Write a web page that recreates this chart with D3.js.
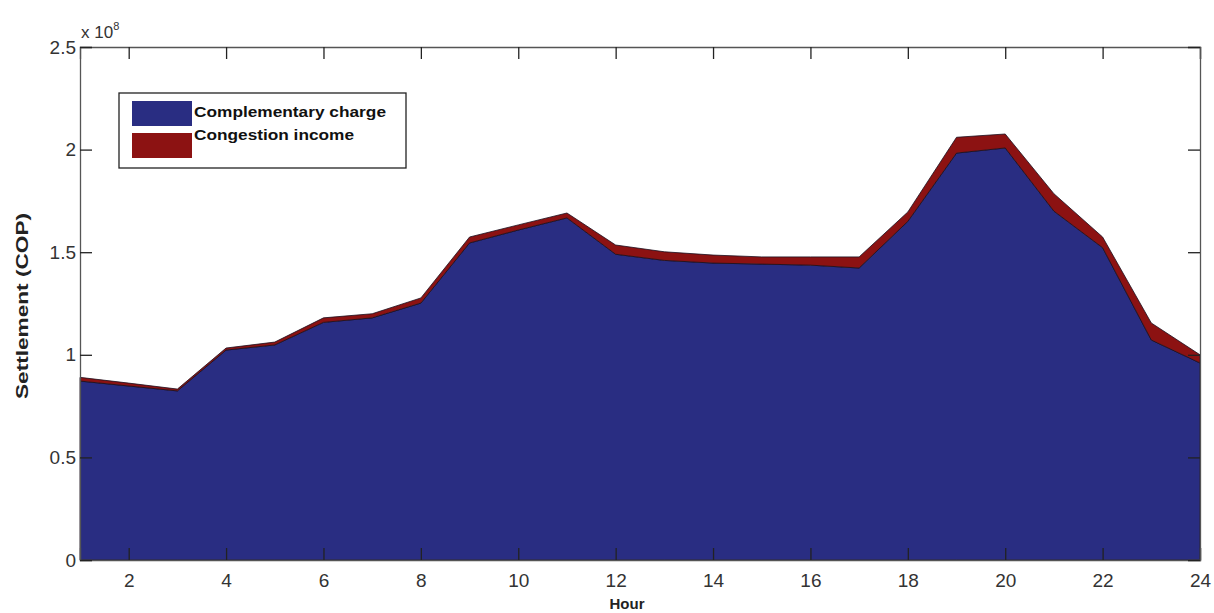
<!DOCTYPE html>
<html>
<head>
<meta charset="utf-8">
<script src="https://d3js.org/d3.v7.min.js"></script>
<style>
body { margin: 0; background: #fff; }
text { font-family: "Liberation Sans", Arial, sans-serif; }
</style>
</head>
<body>
<script>
var width = 1214;
var height = 613;

// data, values in units of 1e8 COP
var hours = [1,2,3,4,5,6,7,8,9,10,11,12,13,14,15,16,17,18,19,20,21,22,23,24];
var complementary = [0.872,0.848,0.824,1.023,1.048,1.158,1.18,1.252,1.545,1.608,1.667,1.49,1.46,1.447,1.442,1.437,1.423,1.65,1.983,2.008,1.70,1.522,1.072,0.96];
var congestion = [0.018,0.014,0.009,0.010,0.014,0.022,0.02,0.025,0.029,0.025,0.024,0.045,0.042,0.039,0.035,0.04,0.054,0.046,0.077,0.068,0.085,0.052,0.083,0.04];
var seriesNames = ["Complementary charge","Congestion income"];
var seriesColors = ["#292d82","#8c1212"];
var xTicks = [2,4,6,8,10,12,14,16,18,20,22,24];
var yTicks = [0,0.5,1,1.5,2,2.5];

var svg = d3.select("body").append("svg")
            .attr("width",width)
            .attr("height",height);

var pLeft = 80, pRight = 1200, pTop = 47, pBottom = 560;

var x = d3.scaleLinear().domain([1,24]).range([pLeft,pRight]);
var y = d3.scaleLinear().domain([0,2.5]).range([pBottom,pTop]);

var rows = hours.map(function(h,i){ return {hour:h, comp:complementary[i], cong:congestion[i]}; });
var stacked = d3.stack().keys(["comp","cong"])(rows);

var area = d3.area()
    .x(function(d){ return x(d.data.hour); })
    .y0(function(d){ return y(d[0]); })
    .y1(function(d){ return y(d[1]); });

svg.append("g")
   .selectAll("path")
   .data(stacked)
   .enter()
   .append("path")
   .attr("d", area)
   .attr("fill", function(d,i){ return seriesColors[i]; })
   .attr("stroke", "#1a1020")
   .attr("stroke-width", 0.8);

// axes, ticks inward on all four sides
var tickLen = 12;
var g = svg.append("g");

g.append("g")
 .attr("transform","translate(0,"+pBottom+")")
 .call(d3.axisBottom(x).tickValues(xTicks).tickSize(-tickLen).tickPadding(14));
g.append("g")
 .attr("transform","translate(0,"+pTop+")")
 .call(d3.axisTop(x).tickValues(xTicks).tickSize(-tickLen).tickFormat(""));
g.append("g")
 .attr("transform","translate("+pLeft+",0)")
 .call(d3.axisLeft(y).tickValues(yTicks).tickSize(-tickLen).tickPadding(4)
       .tickFormat(function(d){ return d; }));
g.append("g")
 .attr("transform","translate("+pRight+",0)")
 .call(d3.axisRight(y).tickValues(yTicks).tickSize(-tickLen).tickFormat(""));

g.selectAll(".domain").attr("stroke", "#555").attr("stroke-width",1.3);
g.selectAll(".tick line").attr("stroke", "#222").attr("stroke-width",1.3);
g.selectAll(".tick text")
 .attr("font-size", 19)
 .attr("fill", "#333")
 .attr("font-family", "'Liberation Sans', Arial, sans-serif");

// exponent label
var ex = svg.append("text").attr("x",81).attr("y",38).attr("font-size",17).attr("fill","#333");
ex.append("tspan").text("x 10");
ex.append("tspan").attr("font-size",11).attr("dy",-8).text("8");

// axis titles
svg.append("text")
   .attr("transform","translate(28,306) rotate(-90)")
   .attr("text-anchor","middle")
   .attr("font-size",17)
   .attr("font-weight","bold")
   .attr("font-family","'DejaVu Sans', sans-serif")
   .attr("textLength",186)
   .attr("lengthAdjust","spacingAndGlyphs")
   .attr("fill","#222")
   .text("Settlement (COP)");

svg.append("text")
   .attr("x",627)
   .attr("y",609)
   .attr("text-anchor","middle")
   .attr("font-size",15)
   .attr("font-weight","bold")
   .attr("font-family","'DejaVu Sans', sans-serif")
   .attr("fill","#222")
   .text("Hour");

// legend
var lg = svg.append("g");
lg.append("rect")
  .attr("x",119).attr("y",93).attr("width",287).attr("height",75)
  .attr("fill","#fff").attr("stroke","#222").attr("stroke-width",1.3);
lg.selectAll(".sw")
  .data(seriesNames)
  .enter()
  .append("rect")
  .attr("x",132)
  .attr("y",function(d,i){ return 101 + i*32; })
  .attr("width",60).attr("height",25)
  .attr("fill",function(d,i){ return seriesColors[i]; });
lg.selectAll(".lt")
  .data(seriesNames)
  .enter()
  .append("text")
  .attr("x",194)
  .attr("y",function(d,i){ return 117 + i*23; })
  .attr("font-size",15)
  .attr("font-weight","bold")
  .attr("font-family","'DejaVu Sans', sans-serif")
  .attr("textLength",function(d,i){ return i === 0 ? 192 : 160; })
  .attr("lengthAdjust","spacingAndGlyphs")
  .attr("fill","#111")
  .text(function(d){ return d; });
</script>
</body>
</html>
